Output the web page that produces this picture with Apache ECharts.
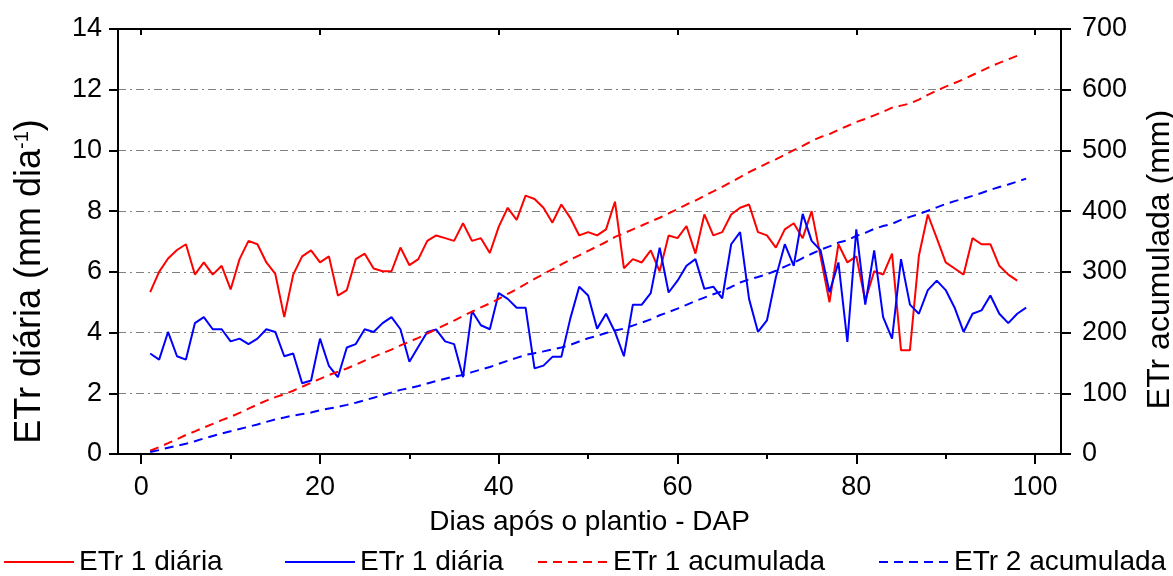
<!DOCTYPE html>
<html>
<head>
<meta charset="utf-8">
<script src="https://cdn.jsdelivr.net/npm/echarts@6.0.0/dist/echarts.min.js"></script>
<style>
html, body { margin: 0; padding: 0; background: #fff; }
#chart { width: 1173px; height: 576px; }
</style>
</head>
<body>
<div id="chart"></div>
<script>
// ETr diária (mm/dia), dia 1 em diante
var etrDiaria1 = [
	5.33, 6.0, 6.44, 6.72, 6.91, 5.91, 6.31, 5.91, 6.2, 5.42,
	6.42, 7.02, 6.91, 6.31, 5.93, 4.51, 5.91, 6.51, 6.71, 6.31,
	6.51, 5.22, 5.40, 6.42, 6.60, 6.11, 6.02, 6.02, 6.80, 6.22,
	6.42, 7.02, 7.2, 7.11, 7.02, 7.6, 7.02, 7.11, 6.62, 7.49,
	8.11, 7.71, 8.51, 8.40, 8.11, 7.62, 8.22, 7.78, 7.2, 7.31,
	7.2, 7.4, 8.31, 6.12, 6.42, 6.31, 6.71, 6.02, 7.2, 7.11,
	7.51, 6.6, 7.89, 7.2, 7.31, 7.89, 8.11, 8.22, 7.31, 7.2,
	6.8, 7.4, 7.6, 7.11, 8.0, 6.5, 5.0, 6.91, 6.31, 6.51,
	5.05, 6.02, 5.91, 6.6, 3.42, 3.42, 6.53, 7.89, 7.11, 6.31,
	6.11, 5.91, 7.11, 6.91, 6.91, 6.2, 5.91, 5.71
];
var etrDiaria2 = [
	3.31, 3.11, 4.02, 3.22, 3.11, 4.31, 4.51, 4.11, 4.11, 3.71,
	3.80, 3.62, 3.80, 4.11, 4.02, 3.22, 3.31, 2.33, 2.42, 3.80,
	2.90, 2.53, 3.51, 3.62, 4.11, 4.02, 4.31, 4.51, 4.11, 3.04,
	3.53, 4.02, 4.1, 3.71, 3.62, 2.53, 4.71, 4.24, 4.11, 5.30,
	5.11, 4.82, 4.82, 2.82, 2.91, 3.20, 3.20, 4.46, 5.51, 5.22,
	4.13, 4.62, 4.02, 3.22, 4.92, 4.92, 5.30, 6.80, 5.32, 5.71,
	6.2, 6.42, 5.44, 5.51, 5.13, 6.91, 7.31, 5.11, 4.02, 4.4,
	5.82, 6.91, 6.2, 7.91, 7.02, 6.71, 5.33, 6.31, 3.69, 7.4,
	4.92, 6.71, 4.51, 3.8, 6.42, 4.92, 4.62, 5.4, 5.71, 5.4,
	4.82, 4.02, 4.62, 4.73, 5.22, 4.62, 4.31, 4.62, 4.82
];
// ETr acumulada (mm)
var etrAcum1 = [
	5.3, 11.3, 17.8, 24.5, 31.4, 37.3, 43.6, 49.5, 55.7, 61.2,
	67.6, 74.6, 81.5, 87.8, 93.7, 98.3, 104.2, 110.7, 117.4, 123.7,
	130.2, 135.4, 140.8, 147.2, 153.8, 160.0, 166.0, 172.0, 178.8, 185.0,
	191.4, 198.5, 205.7, 212.8, 219.8, 227.4, 234.4, 241.5, 248.1, 255.6,
	263.7, 271.4, 280.0, 288.4, 296.5, 304.1, 312.3, 320.1, 327.3, 334.6,
	341.8, 349.2, 357.5, 363.6, 370.0, 376.4, 383.1, 389.1, 396.3, 403.4,
	410.9, 417.5, 425.4, 432.6, 439.9, 447.8, 455.9, 464.1, 471.4, 478.6,
	485.4, 492.8, 500.4, 507.5, 515.5, 522.0, 527.0, 534.0, 540.3, 546.8,
	551.8, 557.8, 563.8, 570.4, 573.8, 577.2, 583.7, 591.6, 598.7, 605.0,
	611.1, 617.1, 624.2, 631.1, 638.0, 644.2, 650.1, 655.8
];
var etrAcum2 = [
	3.3, 6.4, 10.4, 13.7, 16.8, 21.1, 25.6, 29.7, 33.8, 37.5,
	41.3, 44.9, 48.7, 52.9, 56.9, 60.1, 63.4, 65.7, 68.2, 72.0,
	74.9, 77.4, 80.9, 84.5, 88.6, 92.6, 97.0, 101.5, 105.6, 108.6,
	112.1, 116.2, 120.3, 124.0, 127.6, 130.1, 134.8, 139.1, 143.2, 148.5,
	153.6, 158.4, 163.2, 166.1, 169.0, 172.2, 175.4, 179.8, 185.3, 190.6,
	194.7, 199.3, 203.3, 206.5, 211.5, 216.4, 221.7, 228.5, 233.8, 239.5,
	245.7, 252.1, 257.6, 263.1, 268.2, 275.1, 282.4, 287.5, 291.6, 296.0,
	301.8, 308.7, 314.9, 322.8, 329.8, 336.5, 341.9, 348.2, 351.9, 359.3,
	364.2, 370.9, 375.4, 379.2, 385.6, 390.5, 395.2, 400.6, 406.3, 411.7,
	416.5, 420.5, 425.1, 429.9, 435.1, 439.7, 444.0, 448.6, 453.5
];
var xTicks = [0, 20, 40, 60, 80, 100];
var xMinorTicks = [10, 30, 50, 70, 90];
var legendLabels = {
	d1: 'ETr 1 diária',
	d2: 'ETr 1 diária',
	a1: 'ETr 1 acumulada',
	a2: 'ETr 2 acumulada'
};

var FONT = '"Liberation Sans", Arial, sans-serif';

function pares(values){
	var out = [];
	for(var i = 0; i < values.length; i++){
		out.push([i + 1, values[i]]);
	}
	return out;
}

function legenda(id, left){
	return {
		data: [id],
		left: left,
		top: 548,
		padding: 0,
		itemWidth: 70,
		itemHeight: 14,
		itemStyle: {opacity: 0},
		textStyle: {fontSize: 28, fontFamily: FONT, color: '#000'},
		formatter: function(name){ return legendLabels[name]; }
	};
}

var chart = echarts.init(document.getElementById('chart'));
var eixo = {onZero: false, lineStyle: {color: '#000', width: 2}};

var option = {
	animation: false,
	backgroundColor: '#fff',
	grid: {left: 118, right: 112, top: 29, bottom: 122, containLabel: false, outerBoundsMode: 'none'},
	legend: [legenda('d1', 3), legenda('d2', 284), legenda('a1', 537), legenda('a2', 878)],
	xAxis: [{
		type: 'value',
		min: -2.6,
		max: 102.9,
		position: 'bottom',
		axisLine: eixo,
		axisTick: {customValues: xTicks, length: 10, lineStyle: {color: '#000', width: 2}},
		axisLabel: {customValues: xTicks, fontSize: 27, fontFamily: FONT, color: '#000', margin: 20},
		splitLine: {show: false},
		name: 'Dias após o plantio - DAP',
		nameLocation: 'middle',
		nameGap: 54,
		nameTextStyle: {fontSize: 28, fontFamily: FONT, color: '#000'}
	}, {
		type: 'value',
		min: -2.6,
		max: 102.9,
		position: 'bottom',
		axisLine: {show: false, onZero: false},
		axisTick: {customValues: xMinorTicks, length: 5, lineStyle: {color: '#000', width: 2}},
		axisLabel: {show: false},
		splitLine: {show: false}
	}, {
		type: 'value',
		min: -2.6,
		max: 102.9,
		position: 'top',
		axisLine: eixo,
		axisTick: {customValues: xTicks, inside: true, length: 6, lineStyle: {color: '#000', width: 2}},
		axisLabel: {show: false},
		splitLine: {show: false}
	}],
	yAxis: [{
		type: 'value',
		min: 0,
		max: 14,
		interval: 2,
		position: 'left',
		axisLine: {show: true, onZero: false, lineStyle: {color: '#000', width: 2}},
		axisTick: {show: true, length: 9, lineStyle: {color: '#000', width: 2}},
		axisLabel: {fontSize: 27, fontFamily: FONT, color: '#000', margin: 16},
		splitLine: {show: true, lineStyle: {color: '#808080', width: 1, type: [8, 4, 2, 4]}},
		name: 'ETr diária (mm dia{sup|-1})',
		nameLocation: 'middle',
		nameRotate: 90,
		nameGap: 70,
		nameTextStyle: {
			fontSize: 36, fontFamily: FONT, color: '#000',
			padding: [0, 80, 0, 0],
			rich: {sup: {fontSize: 20, fontFamily: FONT, color: '#000', verticalAlign: 'top'}}
		}
	}, {
		type: 'value',
		min: 0,
		max: 700,
		interval: 100,
		position: 'right',
		axisLine: {show: true, onZero: false, lineStyle: {color: '#000', width: 2}},
		axisTick: {show: true, length: 10, lineStyle: {color: '#000', width: 2}},
		axisLabel: {fontSize: 27, fontFamily: FONT, color: '#000', margin: 21},
		splitLine: {show: false},
		name: 'ETr acumulada (mm)',
		nameLocation: 'middle',
		nameRotate: 90,
		nameGap: 83,
		nameTextStyle: {fontSize: 32, fontFamily: FONT, color: '#000', padding: [0, 36, 0, 0]}
	}],
	series: [{
		name: 'd1',
		type: 'line',
		xAxisIndex: 0,
		yAxisIndex: 0,
		symbol: 'none',
		lineStyle: {color: '#ff0000', width: 2},
		itemStyle: {color: '#ff0000'},
		data: pares(etrDiaria1)
	}, {
		name: 'd2',
		type: 'line',
		xAxisIndex: 0,
		yAxisIndex: 0,
		symbol: 'none',
		lineStyle: {color: '#0000ff', width: 2},
		itemStyle: {color: '#0000ff'},
		data: pares(etrDiaria2)
	}, {
		name: 'a1',
		type: 'line',
		xAxisIndex: 0,
		yAxisIndex: 1,
		symbol: 'none',
		lineStyle: {color: '#ff0000', width: 2, type: [9, 6]},
		itemStyle: {color: '#ff0000'},
		data: pares(etrAcum1)
	}, {
		name: 'a2',
		type: 'line',
		xAxisIndex: 0,
		yAxisIndex: 1,
		symbol: 'none',
		lineStyle: {color: '#0000ff', width: 2, type: [9, 6]},
		itemStyle: {color: '#0000ff'},
		data: pares(etrAcum2)
	}]
};
chart.setOption(option);
</script>
</body>
</html>
